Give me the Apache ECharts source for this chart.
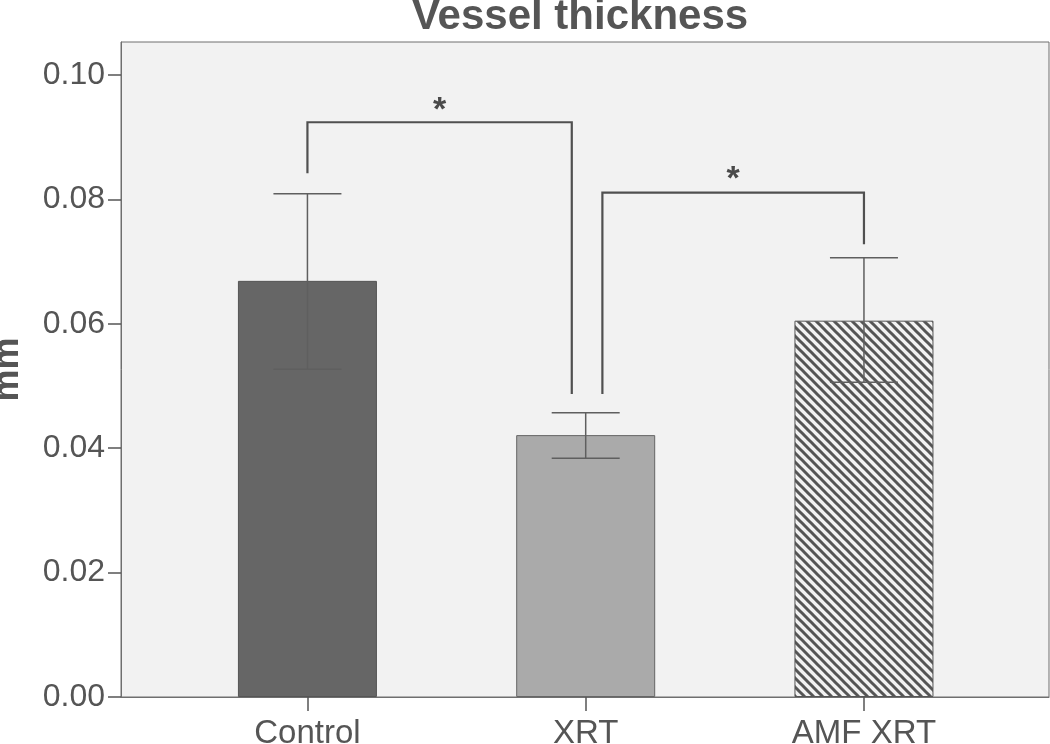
<!DOCTYPE html>
<html>
<head>
<meta charset="utf-8">
<script src="https://cdn.jsdelivr.net/npm/echarts@6/dist/echarts.min.js"></script>
<style>html,body{margin:0;padding:0;background:#fff;}#c{width:1050px;height:744px;}</style>
</head>
<body>
<div id="c"></div>
<script>
// ---- data ----
var categories = ['Control', 'XRT', 'AMF XRT'];
var means = [0.0669, 0.0421, 0.0605];
var errLow = [0.0527, 0.0384, 0.0506];
var errHigh = [0.0809, 0.0457, 0.0706];
var yTicks = [0, 0.02, 0.04, 0.06, 0.08, 0.10];
// significance brackets: [xLeft, xRight, yLeftBottom, yRightBottom, yTop]
var brackets = [
  [0, 0.95, 0.0842, 0.0487, 0.0924],
  [1.06, 2, 0.0487, 0.0728, 0.0811]
];
var stars = [[0.475, 0.0952], [1.53, 0.0842]];

// hatch pattern
function makeHatch() {
  var s = 9, cv = document.createElement('canvas');
  cv.width = s; cv.height = s;
  var ctx = cv.getContext('2d');
  ctx.fillStyle = '#f2f2f2'; ctx.fillRect(0, 0, s, s);
  ctx.strokeStyle = '#555'; ctx.lineWidth = 3;
  for (var k = -1; k <= 1; k++) {
    ctx.beginPath();
    ctx.moveTo(k * s - 2, -2);
    ctx.lineTo(k * s + s + 2, s + 2);
    ctx.stroke();
  }
  return cv;
}
var hatch = makeHatch();
var barColors = ['#666666', '#aaaaaa', { image: hatch, repeat: 'repeat' }];
var barBorders = ['#555555', '#666666', '#555555'];

var chart = echarts.init(document.getElementById('c'), null, { renderer: 'canvas' });
var textColor = '#555';
var font = 'Liberation Sans, Arial, sans-serif';

chart.setOption({
  animation: false,
  title: {
    text: 'Vessel thickness',
    left: 575, top: -9, textAlign: 'center',
    textStyle: { fontFamily: font, fontSize: 42, fontWeight: 'bold', color: textColor }
  },
  grid: {
    left: 121, top: 42, right: 1, bottom: 47,
    outerBoundsMode: 'none', containLabel: false,
    show: true, backgroundColor: '#f2f2f2', borderColor: '#6f6f6f', borderWidth: 1
  },
  xAxis: {
    type: 'value', min: -0.670, max: 2.665,
    splitLine: { show: false },
    axisLine: { show: true, onZero: false, lineStyle: { color: '#6f6f6f', width: 1 } },
    axisTick: { show: true, length: 14, customValues: [0, 1, 2], lineStyle: { color: '#555', width: 1.5 } },
    axisLabel: {
      customValues: [0, 1, 2], margin: 20,
      formatter: function (v) { return categories[Math.round(v)]; },
      fontFamily: font, fontSize: 33, color: textColor
    }
  },
  yAxis: {
    type: 'value', min: 0, max: 0.1053,
    name: 'mm', nameLocation: 'middle', nameRotate: 90, nameGap: 95,
    nameTextStyle: { fontFamily: font, fontSize: 36, fontWeight: 'bold', color: textColor },
    splitLine: { show: false },
    axisLine: { show: true, onZero: false, lineStyle: { color: '#6f6f6f', width: 1 } },
    axisTick: { show: true, length: 13, customValues: yTicks, lineStyle: { color: '#555', width: 1.5 } },
    axisLabel: {
      customValues: yTicks, margin: 16,
      formatter: function (v) { return v.toFixed(2); },
      fontFamily: font, fontSize: 32, color: textColor
    }
  },
  series: [
    {
      type: 'bar', barWidth: 139,
      data: means.map(function (m, i) {
        return { value: [i, m], itemStyle: { color: barColors[i], borderColor: barBorders[i], borderWidth: 1 } };
      }),
      z: 2
    },
    {
      type: 'custom', z: 3,
      data: means.map(function (m, i) { return [i, errLow[i], errHigh[i]]; }),
      renderItem: function (params, api) {
        var x = api.value(0);
        var lo = api.coord([x, api.value(1)]);
        var hi = api.coord([x, api.value(2)]);
        var hw = 34;
        var st = { stroke: '#5f5f5f', lineWidth: 1.5, fill: null };
        return {
          type: 'group', children: [
            { type: 'line', shape: { x1: lo[0], y1: lo[1], x2: hi[0], y2: hi[1] }, style: st },
            { type: 'line', shape: { x1: lo[0] - hw, y1: lo[1], x2: lo[0] + hw, y2: lo[1] }, style: st },
            { type: 'line', shape: { x1: hi[0] - hw, y1: hi[1], x2: hi[0] + hw, y2: hi[1] }, style: st }
          ]
        };
      }
    },
    {
      type: 'custom', z: 4,
      data: brackets,
      renderItem: function (params, api) {
        var xl = api.value(0), xr = api.value(1);
        var a = api.coord([xl, api.value(2)]);
        var b = api.coord([xl, api.value(4)]);
        var c = api.coord([xr, api.value(4)]);
        var d = api.coord([xr, api.value(3)]);
        return {
          type: 'polyline',
          shape: { points: [a, b, c, d] },
          style: { stroke: '#505050', lineWidth: 2.2, fill: null }
        };
      }
    },
    {
      type: 'custom', z: 5,
      data: stars,
      renderItem: function (params, api) {
        var p = api.coord([api.value(0), api.value(1)]);
        return {
          type: 'text', x: p[0], y: p[1] + 6,
          style: { text: '*', fontFamily: font, fontSize: 34, fontWeight: 'bold', fill: '#4a4a4a', align: 'center', verticalAlign: 'middle' }
        };
      }
    }
  ]
});
</script>
</body>
</html>
